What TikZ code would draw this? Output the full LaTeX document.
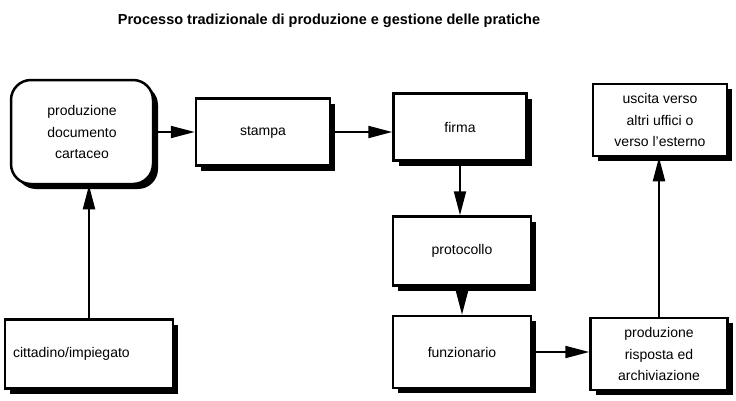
\documentclass[tikz,border=0pt]{standalone}
\usepackage{fontspec}
\setmainfont{Liberation Sans}
\usetikzlibrary{arrows.meta,shadows}

\begin{document}
\begin{tikzpicture}[x=1pt, y=-1pt,
	box/.style={rectangle, draw, fill=white, line width=2.5pt, align=center, font=\fontsize{14}{21.5}\selectfont, drop shadow={shadow xshift=5pt, shadow yshift=-5pt, opacity=1, fill=black}},
	flow/.style={line width=2pt, -{Triangle[length=24pt, width=12pt]}}]
		
		\useasboundingbox (0,0) rectangle (736,400);
		
		%Title
		\node (title) at (329,21) [font=\bfseries\fontsize{14.5}{16}\selectfont]{Processo tradizionale di produzione e gestione delle pratiche};
		
		%First row
		\node (documento) at (82,132) [box, rounded corners=20pt, minimum width=142pt, minimum 
		height=104pt]{produzione\\documento\\cartaceo};
		\node (stampa) at (263,132) [box, minimum width=134pt, minimum 
		height=67pt]{stampa};
		\node (firma) at (460,127) [box, minimum width=133pt, minimum 
		height=67pt]{firma};
		\node (uscita) at (660,120) [box, minimum width=134pt, minimum 
		height=72pt]{uscita verso\\altri uffici o\\verso l'esterno};
		
		%Middle
		\node (protocollo) at (462,251) [box, minimum width=138pt, minimum 
		height=69pt]{protocollo};
		
		%Last row
		\node (cittadino) at (89,354) [box, text width=152pt, align=left, inner xsep=8pt, minimum 
		height=69pt]{cittadino/impiegato};
		\node (funzionario) at (462,352) [box, minimum width=138pt, minimum 
		height=72pt]{funzionario};
		\node (risposta) at (659,354) [box, minimum width=137pt, minimum 
		height=72pt]{produzione\\risposta ed\\archiviazione};
		
		%Arrows
		\draw [flow] (cittadino.north) -- (cittadino.north |- documento.south);
		\draw [flow] (documento.east |- stampa) -- (stampa.west);
		\draw [flow] (stampa.east) -- (stampa.east -| firma.west);
		\draw [flow] (firma.south) -- (firma.south |- protocollo.north);
		\draw [flow] (protocollo.south) -- (protocollo.south |- funzionario.north);
		\draw [flow] (funzionario.east) -- (funzionario.east -| risposta.west);
		\draw [flow] (risposta.north) -- (risposta.north |- uscita.south);
		
\end{tikzpicture}
\end{document}
